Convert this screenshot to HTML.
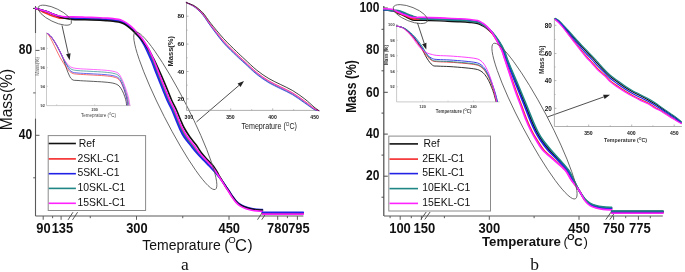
<!DOCTYPE html>
<html><head><meta charset="utf-8"><style>
html,body{margin:0;padding:0;background:#fff;width:685px;height:272px;overflow:hidden}
svg{display:block;will-change:transform}

</style></head><body>
<svg width="685" height="272" viewBox="0 0 685 272">
<rect width="685" height="272" fill="#fff"/>
<line x1="35.5" y1="6" x2="35.5" y2="33" stroke="#5a5a5a" stroke-width="1.1" />
<line x1="35.5" y1="33" x2="35.5" y2="118.5" stroke="#c8c8c8" stroke-width="1" />
<line x1="35.5" y1="118.5" x2="35.5" y2="216" stroke="#5a5a5a" stroke-width="1.1" />
<line x1="35.5" y1="216" x2="303.4" y2="216" stroke="#5a5a5a" stroke-width="1.1" />
<line x1="35.5" y1="50.4" x2="39.5" y2="50.4" stroke="#5a5a5a" stroke-width="1" />
<line x1="35.5" y1="92.9" x2="33.2" y2="92.9" stroke="#5a5a5a" stroke-width="1" />
<line x1="35.5" y1="135.3" x2="39.5" y2="135.3" stroke="#5a5a5a" stroke-width="1" />
<line x1="35.5" y1="177.8" x2="33.2" y2="177.8" stroke="#5a5a5a" stroke-width="1" />
<line x1="33" y1="8.4" x2="35.5" y2="8.4" stroke="#333" stroke-width="1" />
<line x1="43.2" y1="216" x2="43.2" y2="219.8" stroke="#5a5a5a" stroke-width="1" />
<line x1="52.6" y1="216" x2="52.6" y2="218.2" stroke="#5a5a5a" stroke-width="1" />
<line x1="61.1" y1="216" x2="61.1" y2="219.8" stroke="#5a5a5a" stroke-width="1" />
<line x1="90.25" y1="216" x2="90.25" y2="218.2" stroke="#5a5a5a" stroke-width="1" />
<line x1="136.5" y1="216" x2="136.5" y2="219.8" stroke="#5a5a5a" stroke-width="1" />
<line x1="182.75" y1="216" x2="182.75" y2="218.2" stroke="#5a5a5a" stroke-width="1" />
<line x1="229" y1="216" x2="229" y2="219.8" stroke="#5a5a5a" stroke-width="1" />
<line x1="277.7" y1="216" x2="277.7" y2="219.8" stroke="#5a5a5a" stroke-width="1" />
<line x1="287.4" y1="216" x2="287.4" y2="218.2" stroke="#5a5a5a" stroke-width="1" />
<line x1="297.4" y1="216" x2="297.4" y2="219.8" stroke="#5a5a5a" stroke-width="1" />
<line x1="68" y1="219.9" x2="73" y2="212.2" stroke="#444" stroke-width="0.9" />
<line x1="72.5" y1="219.9" x2="77.6" y2="212.2" stroke="#444" stroke-width="0.9" />
<line x1="257.5" y1="219.7" x2="262.5" y2="212.2" stroke="#444" stroke-width="0.9" />
<line x1="261.8" y1="219.7" x2="266.8" y2="212.2" stroke="#444" stroke-width="0.9" />
<text x="0" y="5" font-size="14" text-anchor="end" font-weight="bold" font-family="Liberation Sans" fill="#111" transform="translate(32.1 49.2) scale(0.86 1)">80</text>
<text x="0" y="5" font-size="14" text-anchor="end" font-weight="bold" font-family="Liberation Sans" fill="#111" transform="translate(32.1 134) scale(0.86 1)">40</text>
<text x="0" y="0" font-size="14" text-anchor="middle" font-weight="bold" font-family="Liberation Sans" fill="#111"  transform="translate(43.4 232.7) scale(0.92 1)">90</text>
<text x="0" y="0" font-size="14" text-anchor="middle" font-weight="bold" font-family="Liberation Sans" fill="#111"  transform="translate(62.4 232.7) scale(0.92 1)">135</text>
<text x="0" y="0" font-size="14" text-anchor="middle" font-weight="bold" font-family="Liberation Sans" fill="#111"  transform="translate(136.9 232.7) scale(0.92 1)">300</text>
<text x="0" y="0" font-size="14" text-anchor="middle" font-weight="bold" font-family="Liberation Sans" fill="#111"  transform="translate(229.2 232.7) scale(0.92 1)">450</text>
<text x="0" y="0" font-size="14" text-anchor="middle" font-weight="bold" font-family="Liberation Sans" fill="#111"  transform="translate(277.8 232.7) scale(0.92 1)">780</text>
<text x="0" y="0" font-size="14" text-anchor="middle" font-weight="bold" font-family="Liberation Sans" fill="#111"  transform="translate(298.9 232.7) scale(0.92 1)">795</text>
<text x="0" y="0" font-size="15.6" text-anchor="middle" font-weight="normal" font-family="Liberation Sans" fill="#111" transform="translate(12.2 99.6) rotate(-90)">Mass(%)</text>
<text x="142.2" y="250.4" font-size="15.4" text-anchor="start" font-weight="normal" font-family="Liberation Sans" fill="#111" textLength="78.6" lengthAdjust="spacingAndGlyphs" >Temeprature</text>
<text x="224.2" y="250.4" font-size="15.4" text-anchor="start" font-weight="normal" font-family="Liberation Sans" fill="#111" >(</text>
<text x="228.2" y="243" font-size="9.6" text-anchor="start" font-weight="normal" font-family="Liberation Sans" fill="#111" >O</text>
<text x="234.9" y="250.6" font-size="16.8" text-anchor="start" font-weight="normal" font-family="Liberation Sans" fill="#111" textLength="12" lengthAdjust="spacingAndGlyphs">C</text>
<text x="247.4" y="250.4" font-size="15.4" text-anchor="start" font-weight="normal" font-family="Liberation Sans" fill="#111" >)</text>
<text x="181" y="269.6" font-size="17.5" text-anchor="start" font-weight="normal" font-family="Liberation Serif" fill="#111" >a</text>
<rect x="48.2" y="135.6" width="97.4" height="74.9" fill="#fff" stroke="#8a8a8a" stroke-width="1"/>
<line x1="48.7" y1="143.5" x2="75.9" y2="143.5" stroke="#111111" stroke-width="1.6" />
<text x="0" y="0" font-size="11.2" text-anchor="start" font-weight="normal" font-family="Liberation Sans" fill="#111"  transform="translate(78.8 146.7) scale(0.93 1)">Ref</text>
<line x1="48.7" y1="158.9" x2="75.9" y2="158.9" stroke="#f52828" stroke-width="1.6" />
<text x="0" y="0" font-size="11.2" text-anchor="start" font-weight="normal" font-family="Liberation Sans" fill="#111"  transform="translate(77.4 161.5) scale(0.93 1)">2SKL-C1</text>
<line x1="48.7" y1="173.7" x2="75.9" y2="173.7" stroke="#2222e6" stroke-width="1.6" />
<text x="0" y="0" font-size="11.2" text-anchor="start" font-weight="normal" font-family="Liberation Sans" fill="#111"  transform="translate(77.4 176.3) scale(0.93 1)">5SKL-C1</text>
<line x1="48.7" y1="188.4" x2="75.9" y2="188.4" stroke="#1f8585" stroke-width="1.6" />
<text x="0" y="0" font-size="11.2" text-anchor="start" font-weight="normal" font-family="Liberation Sans" fill="#111"  transform="translate(77.4 191) scale(0.93 1)">10SKL-C1</text>
<line x1="48.7" y1="203.3" x2="75.9" y2="203.3" stroke="#ff22ff" stroke-width="1.6" />
<text x="0" y="0" font-size="11.2" text-anchor="start" font-weight="normal" font-family="Liberation Sans" fill="#111"  transform="translate(77.4 205.9) scale(0.93 1)">15SKL-C1</text>
<path d="M35.6 8.4 C36.1 8.62 37.37 9.14 38.6 9.72 C39.83 10.3 41.35 11.14 43 11.9 C44.65 12.66 46.67 13.53 48.5 14.3 C50.33 15.07 52.15 15.87 54 16.5 C55.85 17.13 57.75 17.8 59.6 18.09 C61.45 18.39 63.03 18.21 65.1 18.26 C67.17 18.32 68.68 18.33 72 18.4 C75.32 18.47 80.33 18.57 85 18.7 C89.67 18.83 96.33 19.05 100 19.2 C103.67 19.35 104.83 19.45 107 19.6 C109.17 19.75 111.1 19.88 113 20.1 C114.9 20.32 116.82 20.55 118.4 20.9 C119.98 21.25 121.23 21.69 122.5 22.2 C123.77 22.71 124.76 23.19 126.02 23.97 C127.27 24.76 128.8 25.94 130.05 26.92 C131.29 27.9 132.3 28.72 133.48 29.87 C134.66 31.01 135.89 32.44 137.12 33.79 C138.35 35.15 139.69 36.54 140.87 38.02 C142.05 39.49 143.05 40.88 144.22 42.63 C145.39 44.39 146.77 46.47 147.88 48.53 C149 50.59 149.95 52.92 150.9 55 C151.85 57.08 152.28 57.75 153.6 61 C154.92 64.25 156.92 69.7 158.8 74.5 C160.68 79.3 163.15 85.47 164.9 89.8 C166.65 94.13 167.78 97.13 169.3 100.5 C170.82 103.87 172.57 106.83 174 110 C175.43 113.17 176.68 116.58 177.9 119.5 C179.12 122.42 179.9 124.67 181.32 127.5 C182.73 130.33 184.4 133.53 186.38 136.5 C188.36 139.47 191.1 142.55 193.19 145.3 C195.28 148.05 196.9 150.55 198.92 153 C200.93 155.45 203.26 157.83 205.29 160 C207.31 162.17 209.34 164.03 211.07 166 C212.8 167.97 214.28 169.97 215.66 171.82 C217.04 173.67 218.17 175.36 219.36 177.08 C220.55 178.8 221.69 180.46 222.8 182.14 C223.91 183.83 224.97 185.6 226 187.2 C227.03 188.81 227.97 190.16 229 191.76 C230.03 193.36 231.03 195.13 232.2 196.8 C233.37 198.47 234.7 200.38 236 201.8 C237.3 203.22 238.33 204.25 240 205.3 C241.67 206.35 243.83 207.33 246 208.1 C248.17 208.87 250.27 209.47 253 209.9 C255.73 210.33 260.83 210.57 262.4 210.7" fill="none" stroke="#f52828" stroke-width="1.6" stroke-linejoin="round" stroke-linecap="round" />
<path d="M35.6 8.4 C36.1 8.53 37.37 8.85 38.6 9.2 C39.83 9.55 41.35 9.98 43 10.5 C44.65 11.02 46.67 11.63 48.5 12.3 C50.33 12.97 52.15 13.83 54 14.5 C55.85 15.17 57.75 15.82 59.6 16.3 C61.45 16.78 63.03 17.13 65.1 17.4 C67.17 17.67 68.68 17.77 72 17.9 C75.32 18.03 80.33 18.07 85 18.2 C89.67 18.33 96.33 18.55 100 18.7 C103.67 18.85 104.83 18.95 107 19.1 C109.17 19.25 111.1 19.38 113 19.6 C114.9 19.82 116.82 20.05 118.4 20.4 C119.98 20.75 121.24 21.18 122.5 21.7 C123.76 22.22 124.73 22.7 125.96 23.5 C127.19 24.3 128.67 25.5 129.87 26.5 C131.08 27.5 132.05 28.33 133.19 29.5 C134.32 30.67 135.49 32.12 136.67 33.5 C137.85 34.88 139.12 36.3 140.25 37.8 C141.37 39.3 142.32 40.72 143.41 42.5 C144.51 44.28 145.78 46.42 146.84 48.5 C147.91 50.58 148.86 52.92 149.8 55 C150.74 57.08 151.18 57.75 152.5 61 C153.82 64.25 155.82 69.7 157.7 74.5 C159.58 79.3 162.05 85.47 163.8 89.8 C165.55 94.13 166.68 97.13 168.2 100.5 C169.72 103.87 171.47 106.83 172.9 110 C174.33 113.17 175.59 116.58 176.8 119.5 C178.01 122.42 178.79 124.67 180.15 127.5 C181.52 130.33 183.05 133.53 184.98 136.5 C186.92 139.47 189.63 142.55 191.76 145.3 C193.89 148.05 195.67 150.55 197.75 153 C199.83 155.45 202.18 157.83 204.24 160 C206.29 162.17 208.27 164.03 210.08 166 C211.89 167.97 213.56 169.97 215.07 171.8 C216.58 173.63 217.85 175.3 219.14 177 C220.43 178.7 221.66 180.33 222.8 182 C223.94 183.67 224.97 185.42 226 187 C227.03 188.58 227.97 189.92 229 191.5 C230.03 193.08 231.03 194.83 232.2 196.5 C233.37 198.17 234.7 200.08 236 201.5 C237.3 202.92 238.33 203.95 240 205 C241.67 206.05 243.83 207.03 246 207.8 C248.17 208.57 250.27 209.17 253 209.6 C255.73 210.03 260.83 210.27 262.4 210.4" fill="none" stroke="#1f8585" stroke-width="1.6" stroke-linejoin="round" stroke-linecap="round" />
<path d="M35.6 8.4 C36.1 8.53 37.37 8.85 38.6 9.2 C39.83 9.55 41.35 9.98 43 10.5 C44.65 11.02 46.67 11.63 48.5 12.3 C50.33 12.97 52.15 13.81 54 14.5 C55.85 15.19 57.75 15.89 59.6 16.44 C61.45 16.98 63.03 17.4 65.1 17.74 C67.17 18.09 68.68 18.32 72 18.5 C75.32 18.68 80.33 18.67 85 18.8 C89.67 18.93 96.33 19.15 100 19.3 C103.67 19.45 104.83 19.55 107 19.7 C109.17 19.85 111.1 19.98 113 20.2 C114.9 20.42 116.82 20.65 118.4 21 C119.98 21.35 121.25 21.79 122.5 22.3 C123.75 22.81 124.7 23.28 125.9 24.07 C127.11 24.85 128.54 26.03 129.71 27 C130.88 27.98 131.83 28.8 132.92 29.94 C134.01 31.08 135.13 32.5 136.26 33.85 C137.39 35.21 138.61 36.59 139.68 38.06 C140.75 39.53 141.65 40.92 142.68 42.66 C143.72 44.41 144.88 46.48 145.9 48.53 C146.92 50.59 147.87 52.92 148.8 55 C149.73 57.08 150.18 57.75 151.5 61 C152.82 64.25 154.82 69.7 156.7 74.5 C158.58 79.3 161.05 85.47 162.8 89.8 C164.55 94.13 165.68 97.13 167.2 100.5 C168.72 103.87 170.47 106.83 171.9 110 C173.33 113.17 174.6 116.58 175.8 119.5 C177 122.42 177.78 124.67 179.09 127.5 C180.41 130.33 181.82 133.53 183.71 136.5 C185.61 139.47 188.3 142.55 190.46 145.3 C192.63 148.05 194.55 150.55 196.69 153 C198.83 155.45 201.2 157.83 203.28 160 C205.36 162.17 207.3 164.04 209.18 166 C211.06 167.96 212.92 169.95 214.54 171.74 C216.17 173.54 217.56 175.13 218.94 176.78 C220.31 178.42 221.62 180 222.8 181.62 C223.98 183.23 224.97 184.92 226 186.46 C227.03 187.99 227.97 189.27 229 190.81 C230.03 192.35 231.03 194.05 232.2 195.7 C233.37 197.35 234.7 199.28 236 200.7 C237.3 202.12 238.33 203.15 240 204.2 C241.67 205.25 243.83 206.23 246 207 C248.17 207.77 250.27 208.37 253 208.8 C255.73 209.23 260.83 209.47 262.4 209.6" fill="none" stroke="#2222e6" stroke-width="1.6" stroke-linejoin="round" stroke-linecap="round" />
<path d="M35.6 8.4 C36.1 8.53 37.37 8.85 38.6 9.2 C39.83 9.55 41.35 9.98 43 10.5 C44.65 11.02 46.67 11.63 48.5 12.3 C50.33 12.97 52.15 13.77 54 14.5 C55.85 15.23 57.75 16.02 59.6 16.66 C61.45 17.3 63.03 17.84 65.1 18.31 C67.17 18.78 68.68 19.25 72 19.5 C75.32 19.75 80.33 19.67 85 19.8 C89.67 19.93 96.33 20.15 100 20.3 C103.67 20.45 104.83 20.55 107 20.7 C109.17 20.85 111.1 20.98 113 21.2 C114.9 21.42 116.82 21.65 118.4 22 C119.98 22.35 121.23 22.78 122.5 23.3 C123.77 23.82 124.75 24.3 126 25.1 C127.25 25.9 128.77 27.1 130 28.1 C131.23 29.1 132.2 29.95 133.4 31.1 C134.6 32.25 135.91 33.65 137.2 34.99 C138.49 36.33 139.89 37.7 141.14 39.15 C142.39 40.6 143.45 41.97 144.7 43.7 C145.95 45.43 147.42 47.49 148.64 49.51 C149.85 51.52 150.93 53.78 152 55.8 C153.07 57.82 153.54 58.46 155.04 61.61 C156.53 64.75 158.93 69.98 160.99 74.68 C163.05 79.37 165.6 85.5 167.4 89.8 C169.2 94.1 170.28 97.13 171.8 100.5 C173.32 103.87 175.07 106.83 176.5 110 C177.93 113.17 179.16 116.58 180.4 119.5 C181.64 122.42 182.44 124.67 183.96 127.5 C185.49 130.33 187.48 133.53 189.56 136.5 C191.64 139.47 194.43 142.55 196.44 145.3 C198.44 148.05 199.7 150.55 201.57 153 C203.45 155.45 205.71 157.83 207.67 160 C209.63 162.17 211.77 164.04 213.32 166 C214.87 167.96 215.9 169.96 216.99 171.78 C218.08 173.6 218.9 175.24 219.87 176.92 C220.84 178.6 221.78 180.21 222.8 181.86 C223.82 183.5 224.97 185.23 226 186.8 C227.03 188.36 227.97 189.67 229 191.24 C230.03 192.81 231.03 194.54 232.2 196.2 C233.37 197.86 234.7 199.78 236 201.2 C237.3 202.62 238.33 203.65 240 204.7 C241.67 205.75 243.83 206.73 246 207.5 C248.17 208.27 250.27 208.87 253 209.3 C255.73 209.73 260.83 209.97 262.4 210.1" fill="none" stroke="#111111" stroke-width="1.6" stroke-linejoin="round" stroke-linecap="round" />
<path d="M35.6 8.4 C36.1 8.53 37.37 8.85 38.6 9.2 C39.83 9.55 41.35 9.98 43 10.5 C44.65 11.02 46.67 11.63 48.5 12.3 C50.33 12.97 52.15 13.87 54 14.5 C55.85 15.13 57.75 15.69 59.6 16.07 C61.45 16.46 63.03 16.69 65.1 16.83 C67.17 16.97 68.68 16.84 72 16.9 C75.32 16.96 80.33 17.07 85 17.2 C89.67 17.33 96.33 17.55 100 17.7 C103.67 17.85 104.83 17.95 107 18.1 C109.17 18.25 111.1 18.38 113 18.6 C114.9 18.82 116.82 19.05 118.4 19.4 C119.98 19.75 121.23 20.17 122.5 20.7 C123.77 21.23 124.77 21.73 126.05 22.55 C127.32 23.38 128.88 24.62 130.14 25.66 C131.41 26.7 132.44 27.56 133.64 28.77 C134.85 29.98 136.11 31.48 137.37 32.91 C138.63 34.34 139.99 35.81 141.21 37.36 C142.42 38.92 143.45 40.39 144.66 42.23 C145.87 44.08 147.31 46.32 148.45 48.45 C149.59 50.57 150.54 52.91 151.5 55 C152.46 57.09 152.88 57.75 154.2 61 C155.52 64.25 157.52 69.7 159.4 74.5 C161.28 79.3 163.75 85.47 165.5 89.8 C167.25 94.13 168.38 97.13 169.9 100.5 C171.42 103.87 173.17 106.83 174.6 110 C176.03 113.17 177.27 116.58 178.5 119.5 C179.73 122.42 180.51 124.67 181.95 127.5 C183.39 130.33 185.14 133.53 187.14 136.5 C189.15 139.47 191.9 142.55 193.97 145.3 C196.04 148.05 197.57 150.55 199.56 153 C201.54 155.45 203.85 157.83 205.86 160 C207.87 162.17 209.92 164.02 211.61 166 C213.3 167.98 214.67 169.99 215.98 171.86 C217.29 173.74 218.35 175.49 219.48 177.25 C220.62 179.01 221.71 180.71 222.8 182.43 C223.89 184.16 224.97 185.97 226 187.61 C227.03 189.25 227.97 190.64 229 192.27 C230.03 193.91 231.03 195.71 232.2 197.4 C233.37 199.09 234.7 200.98 236 202.4 C237.3 203.82 238.33 204.85 240 205.9 C241.67 206.95 243.83 207.93 246 208.7 C248.17 209.47 250.27 210.07 253 210.5 C255.73 210.93 260.83 211.17 262.4 211.3" fill="none" stroke="#ff22ff" stroke-width="1.6" stroke-linejoin="round" stroke-linecap="round" />
<path d="M262.4 212.8 C269.22 212.8 296.48 212.8 303.3 212.8" fill="none" stroke="#111111" stroke-width="1.6" stroke-linejoin="round" stroke-linecap="round" />
<path d="M262.4 213.2 C269.22 213.2 296.48 213.2 303.3 213.2" fill="none" stroke="#1f8585" stroke-width="1.6" stroke-linejoin="round" stroke-linecap="round" />
<path d="M262.4 213.6 C269.22 213.6 296.48 213.6 303.3 213.6" fill="none" stroke="#f52828" stroke-width="1.6" stroke-linejoin="round" stroke-linecap="round" />
<path d="M262.4 214.1 C269.22 214.1 296.48 214.1 303.3 214.1" fill="none" stroke="#ff22ff" stroke-width="1.6" stroke-linejoin="round" stroke-linecap="round" />
<path d="M262.4 212.4 C269.22 212.4 296.48 212.4 303.3 212.4" fill="none" stroke="#2222e6" stroke-width="1.6" stroke-linejoin="round" stroke-linecap="round" />
<ellipse cx="54.8" cy="15.2" rx="18.4" ry="6.6" transform="rotate(26 54.8 15.2)" fill="none" stroke="#555" stroke-width="0.8"/>
<ellipse cx="175.3" cy="110.8" rx="88.2" ry="12.5" transform="rotate(63 175.3 110.8)" fill="none" stroke="#555" stroke-width="0.8"/>
<line x1="62" y1="25.4" x2="68.3" y2="53.85" stroke="#222" stroke-width="0.8" />
<path d="M69.7 60.2 L66.05 54.35 L70.54 53.36 Z" fill="#222"/>
<line x1="196.5" y1="121.9" x2="239.07" y2="85.34" stroke="#222" stroke-width="0.8" />
<path d="M244 81.1 L240.57 87.08 L237.57 83.59 Z" fill="#222"/>
<line x1="46.5" y1="33" x2="46.5" y2="105.6" stroke="#bdbdbd" stroke-width="0.8" />
<line x1="46.5" y1="105.6" x2="130.6" y2="105.6" stroke="#bdbdbd" stroke-width="0.8" />
<line x1="46.5" y1="48.4" x2="48" y2="48.4" stroke="#bdbdbd" stroke-width="0.6" />
<line x1="46.5" y1="67.7" x2="48" y2="67.7" stroke="#bdbdbd" stroke-width="0.6" />
<line x1="46.5" y1="86.3" x2="48" y2="86.3" stroke="#bdbdbd" stroke-width="0.6" />
<line x1="56.7" y1="105.6" x2="56.7" y2="104.2" stroke="#bdbdbd" stroke-width="0.6" />
<line x1="94.7" y1="105.6" x2="94.7" y2="104.2" stroke="#bdbdbd" stroke-width="0.6" />
<text x="44.8" y="49.7" font-size="3.8" text-anchor="end" font-weight="bold" font-family="Liberation Sans" fill="#444" >98</text>
<text x="44.8" y="69" font-size="3.8" text-anchor="end" font-weight="bold" font-family="Liberation Sans" fill="#444" >96</text>
<text x="44.8" y="87.6" font-size="3.8" text-anchor="end" font-weight="bold" font-family="Liberation Sans" fill="#444" >94</text>
<text x="44.8" y="106.8" font-size="3.8" text-anchor="end" font-weight="bold" font-family="Liberation Sans" fill="#444" >92</text>
<text x="94.7" y="111.3" font-size="3.8" text-anchor="middle" font-weight="bold" font-family="Liberation Sans" fill="#444" >200</text>
<text x="98.4" y="116.6" font-size="4.8" text-anchor="middle" font-weight="normal" font-family="Liberation Sans" fill="#444" textLength="35" lengthAdjust="spacingAndGlyphs" >Temeprature (<tspan font-size="3" dy="-1.5">O</tspan><tspan dy="1.5">C)</tspan></text>
<text x="0" y="0" font-size="4.8" text-anchor="middle" font-weight="normal" font-family="Liberation Sans" fill="#555" transform="translate(39.4 66.3) rotate(-90)">Mass(%)</text>
<path d="M47.2 33.3 C47.93 33.98 49.91 35.2 51.58 37.4 C53.24 39.6 55.35 43.13 57.2 46.5 C59.05 49.87 60.9 53.26 62.7 57.6 C64.5 61.94 66.46 68.92 68.01 72.55 C69.56 76.19 70.33 78.08 72 79.4 C73.67 80.72 75 80.2 78 80.5 C81 80.8 85.5 80.93 90 81.2 C94.5 81.47 101 81.73 105 82.1 C109 82.47 111.67 82.77 114 83.4 C116.33 84.03 117.61 84.68 119 85.9 C120.39 87.12 121.37 88.93 122.34 90.74 C123.31 92.54 124.16 94.93 124.8 96.72 C125.44 98.52 125.87 100.12 126.15 101.5 C126.43 102.88 126.44 104.42 126.5 105" fill="none" stroke="#111111" stroke-width="0.8" stroke-linejoin="round" stroke-linecap="round" opacity="0.85"/>
<path d="M47.2 33.3 C47.69 33.98 48.86 35.2 50.11 37.4 C51.36 39.6 53.02 43.13 54.7 46.5 C56.38 49.87 58.13 53.94 60.2 57.6 C62.27 61.26 65.16 65.89 67.12 68.48 C69.09 71.06 70.19 72.15 72 73.1 C73.81 74.05 75 73.9 78 74.2 C81 74.5 85.5 74.63 90 74.9 C94.5 75.17 101 75.43 105 75.8 C109 76.17 111.67 76.47 114 77.1 C116.33 77.73 117.55 78.11 119 79.6 C120.45 81.09 121.61 83.64 122.72 86.03 C123.83 88.43 124.87 91.61 125.65 93.99 C126.43 96.38 126.98 98.51 127.38 100.34 C127.77 102.18 127.9 104.22 128 105" fill="none" stroke="#f52828" stroke-width="0.8" stroke-linejoin="round" stroke-linecap="round" opacity="0.85"/>
<path d="M47.2 33.3 C47.96 33.98 50.03 35.2 51.75 37.4 C53.47 39.6 55.63 43.13 57.5 46.5 C59.37 49.87 61.23 54.07 63 57.6 C64.77 61.13 66.61 65.32 68.11 67.7 C69.61 70.08 70.35 71.02 72 71.9 C73.65 72.78 75 72.7 78 73 C81 73.3 85.5 73.43 90 73.7 C94.5 73.97 101 74.23 105 74.6 C109 74.97 111.67 75.27 114 75.9 C116.33 76.53 117.57 76.86 119 78.4 C120.43 79.94 121.53 82.63 122.59 85.14 C123.65 87.65 124.64 90.98 125.37 93.47 C126.1 95.97 126.61 98.2 126.97 100.12 C127.32 102.04 127.41 104.19 127.5 105" fill="none" stroke="#2222e6" stroke-width="0.8" stroke-linejoin="round" stroke-linecap="round" opacity="0.85"/>
<path d="M47.2 33.3 C47.94 33.98 49.95 35.2 51.63 37.4 C53.32 39.6 55.44 43.13 57.3 46.5 C59.16 49.87 61.01 54.33 62.8 57.6 C64.59 60.87 66.51 64.16 68.04 66.15 C69.57 68.13 70.34 68.76 72 69.5 C73.66 70.24 75 70.3 78 70.6 C81 70.9 85.5 71.03 90 71.3 C94.5 71.57 101 71.83 105 72.2 C109 72.57 111.67 72.87 114 73.5 C116.33 74.13 117.51 74.36 119 76 C120.49 77.64 121.74 80.61 122.92 83.35 C124.11 86.09 125.25 89.71 126.1 92.43 C126.95 95.16 127.58 97.59 128.03 99.68 C128.48 101.78 128.67 104.11 128.8 105" fill="none" stroke="#1f8585" stroke-width="0.8" stroke-linejoin="round" stroke-linecap="round" opacity="0.85"/>
<path d="M47.2 33.3 C47.96 33.98 50.03 35.2 51.75 37.4 C53.47 39.6 55.63 43.13 57.5 46.5 C59.37 49.87 61.23 54.54 63 57.6 C64.77 60.66 66.61 63.2 68.11 64.85 C69.61 66.5 70.35 66.88 72 67.5 C73.65 68.12 75 68.3 78 68.6 C81 68.9 85.5 69.03 90 69.3 C94.5 69.57 101 69.83 105 70.2 C109 70.57 111.67 70.87 114 71.5 C116.33 72.13 117.47 72.27 119 74 C120.53 75.73 121.9 78.93 123.18 81.85 C124.45 84.78 125.73 88.66 126.67 91.57 C127.61 94.48 128.32 97.08 128.84 99.32 C129.37 101.56 129.64 104.05 129.8 105" fill="none" stroke="#ff22ff" stroke-width="0.8" stroke-linejoin="round" stroke-linecap="round" opacity="0.85"/>
<line x1="186.5" y1="1.5" x2="186.5" y2="110.4" stroke="#9a9a9a" stroke-width="0.8" />
<line x1="186.5" y1="110.4" x2="319.4" y2="110.4" stroke="#9a9a9a" stroke-width="0.8" />
<line x1="186.5" y1="16.2" x2="188.5" y2="16.2" stroke="#9a9a9a" stroke-width="0.7" />
<line x1="186.5" y1="44.1" x2="188.5" y2="44.1" stroke="#9a9a9a" stroke-width="0.7" />
<line x1="186.5" y1="71.5" x2="188.5" y2="71.5" stroke="#9a9a9a" stroke-width="0.7" />
<line x1="186.5" y1="98.9" x2="188.5" y2="98.9" stroke="#9a9a9a" stroke-width="0.7" />
<line x1="186.5" y1="30.15" x2="187.7" y2="30.15" stroke="#9a9a9a" stroke-width="0.6" />
<line x1="186.5" y1="57.8" x2="187.7" y2="57.8" stroke="#9a9a9a" stroke-width="0.6" />
<line x1="186.5" y1="85.2" x2="187.7" y2="85.2" stroke="#9a9a9a" stroke-width="0.6" />
<line x1="188.8" y1="110.4" x2="188.8" y2="108.4" stroke="#9a9a9a" stroke-width="0.7" />
<line x1="230.7" y1="110.4" x2="230.7" y2="108.4" stroke="#9a9a9a" stroke-width="0.7" />
<line x1="272.7" y1="110.4" x2="272.7" y2="108.4" stroke="#9a9a9a" stroke-width="0.7" />
<line x1="314.6" y1="110.4" x2="314.6" y2="108.4" stroke="#9a9a9a" stroke-width="0.7" />
<line x1="209.75" y1="110.4" x2="209.75" y2="109.2" stroke="#9a9a9a" stroke-width="0.6" />
<line x1="251.7" y1="110.4" x2="251.7" y2="109.2" stroke="#9a9a9a" stroke-width="0.6" />
<line x1="293.65" y1="110.4" x2="293.65" y2="109.2" stroke="#9a9a9a" stroke-width="0.6" />
<text x="184.3" y="18.4" font-size="6.2" text-anchor="end" font-weight="bold" font-family="Liberation Sans" fill="#111" >80</text>
<text x="184.3" y="46.3" font-size="6.2" text-anchor="end" font-weight="bold" font-family="Liberation Sans" fill="#111" >60</text>
<text x="184.3" y="73.7" font-size="6.2" text-anchor="end" font-weight="bold" font-family="Liberation Sans" fill="#111" >40</text>
<text x="184.3" y="101.1" font-size="6.2" text-anchor="end" font-weight="bold" font-family="Liberation Sans" fill="#111" >20</text>
<text x="0" y="0" font-size="5.8" text-anchor="middle" font-weight="bold" font-family="Liberation Sans" fill="#111"  transform="translate(188.8 119.2) scale(0.88 1)">300</text>
<text x="0" y="0" font-size="5.8" text-anchor="middle" font-weight="bold" font-family="Liberation Sans" fill="#111"  transform="translate(230.4 119.2) scale(0.88 1)">350</text>
<text x="0" y="0" font-size="5.8" text-anchor="middle" font-weight="bold" font-family="Liberation Sans" fill="#111"  transform="translate(272.5 119.2) scale(0.88 1)">400</text>
<text x="0" y="0" font-size="5.8" text-anchor="middle" font-weight="bold" font-family="Liberation Sans" fill="#111"  transform="translate(314.6 119.2) scale(0.88 1)">450</text>
<text x="0" y="0" font-size="7.5" text-anchor="middle" font-weight="bold" font-family="Liberation Sans" fill="#222" transform="translate(173.2 51.2) rotate(-90)">Mass(%)</text>
<text x="269.2" y="128.9" font-size="8.2" text-anchor="middle" font-weight="normal" font-family="Liberation Sans" fill="#1a1a1a" textLength="55.5" lengthAdjust="spacingAndGlyphs" >Temeprature (<tspan font-size="5.4" dy="-3">O</tspan><tspan dy="3">C)</tspan></text>
<path d="M186.3 2.6 C186.92 2.9 188.5 3.57 190 4.4 C191.5 5.23 193.13 5.8 195.3 7.6 C197.47 9.4 200.43 12.1 203 15.2 C205.57 18.3 207.27 21.57 210.7 26.2 C214.13 30.83 219.3 38.05 223.6 43 C227.9 47.95 232.93 52.45 236.5 55.9 C240.07 59.35 241.6 60.6 245 63.7 C248.4 66.8 252.92 71.32 256.9 74.5 C260.88 77.68 264.92 80.42 268.9 82.8 C272.88 85.18 276.83 86.8 280.8 88.8 C284.77 90.8 288.72 92.43 292.7 94.8 C296.68 97.17 301.15 100.57 304.7 103 C308.25 105.43 311.65 108.13 314 109.4 C316.35 110.67 318 110.4 318.8 110.6" fill="none" stroke="#2222e6" stroke-width="0.8" stroke-linejoin="round" stroke-linecap="round" />
<path d="M186.3 2.6 C186.92 2.89 188.5 3.51 190 4.31 C191.5 5.11 193.13 5.64 195.3 7.38 C197.47 9.13 200.43 11.74 203 14.79 C205.57 17.83 207.27 21.09 210.7 25.66 C214.13 30.23 219.3 37.3 223.6 42.21 C227.9 47.12 232.93 51.65 236.5 55.11 C240.07 58.56 241.6 59.84 245 62.94 C248.4 66.05 252.92 70.56 256.9 73.74 C260.88 76.93 264.92 79.66 268.9 82.04 C272.88 84.43 276.83 86.04 280.8 88.04 C284.77 90.04 288.72 91.67 292.7 94.04 C296.68 96.41 301.15 99.77 304.7 102.26 C308.25 104.75 311.65 107.58 314 108.97 C316.35 110.36 318 110.33 318.8 110.6" fill="none" stroke="#1f8585" stroke-width="0.8" stroke-linejoin="round" stroke-linecap="round" />
<path d="M186.3 2.6 C186.92 2.86 188.5 3.43 190 4.18 C191.5 4.92 193.13 5.39 195.3 7.06 C197.47 8.72 200.43 11.2 203 14.16 C205.57 17.13 207.27 20.37 210.7 24.85 C214.13 29.33 219.3 36.17 223.6 41.02 C227.9 45.86 232.93 50.45 236.5 53.92 C240.07 57.39 241.6 58.7 245 61.81 C248.4 64.92 252.92 69.43 256.9 72.61 C260.88 75.79 264.92 78.53 268.9 80.91 C272.88 83.29 276.83 84.91 280.8 86.91 C284.77 88.91 288.72 90.54 292.7 92.91 C296.68 95.28 301.15 98.59 304.7 101.16 C308.25 103.72 311.65 106.75 314 108.32 C316.35 109.89 318 110.22 318.8 110.6" fill="none" stroke="#f52828" stroke-width="0.8" stroke-linejoin="round" stroke-linecap="round" />
<path d="M186.3 2.6 C186.92 2.87 188.5 3.46 190 4.23 C191.5 4.99 193.13 5.49 195.3 7.18 C197.47 8.88 200.43 11.4 203 14.39 C205.57 17.39 207.27 20.64 210.7 25.15 C214.13 29.66 219.3 36.59 223.6 41.46 C227.9 46.33 232.93 50.9 236.5 54.36 C240.07 57.82 241.6 59.12 245 62.23 C248.4 65.34 252.92 69.85 256.9 73.03 C260.88 76.21 264.92 78.95 268.9 81.33 C272.88 83.71 276.83 85.33 280.8 87.33 C284.77 89.33 288.72 90.96 292.7 93.33 C296.68 95.7 301.15 99.03 304.7 101.56 C308.25 104.1 311.65 107.05 314 108.56 C316.35 110.07 318 110.26 318.8 110.6" fill="none" stroke="#ff22ff" stroke-width="0.8" stroke-linejoin="round" stroke-linecap="round" />
<path d="M186.3 2.6 C186.92 2.82 188.5 3.27 190 3.9 C191.5 4.53 193.13 4.9 195.3 6.4 C197.47 7.9 200.43 10.1 203 12.9 C205.57 15.7 207.27 18.92 210.7 23.2 C214.13 27.48 219.3 33.88 223.6 38.6 C227.9 43.32 232.93 48.02 236.5 51.5 C240.07 54.98 241.6 56.37 245 59.5 C248.4 62.63 252.92 67.12 256.9 70.3 C260.88 73.48 264.92 76.22 268.9 78.6 C272.88 80.98 276.83 82.6 280.8 84.6 C284.77 86.6 288.72 88.22 292.7 90.6 C296.68 92.98 301.15 96.17 304.7 98.9 C308.25 101.63 311.65 105.05 314 107 C316.35 108.95 318 110 318.8 110.6" fill="none" stroke="#111111" stroke-width="0.8" stroke-linejoin="round" stroke-linecap="round" />
<line x1="383.8" y1="6.1" x2="383.8" y2="216" stroke="#4a4a4a" stroke-width="1.2" />
<line x1="384" y1="216" x2="662.8" y2="216" stroke="#5a5a5a" stroke-width="1.1" />
<line x1="383.8" y1="8" x2="387.8" y2="8" stroke="#4a4a4a" stroke-width="1" />
<line x1="383.8" y1="29.3" x2="381.5" y2="29.3" stroke="#4a4a4a" stroke-width="1" />
<line x1="383.8" y1="50" x2="387.8" y2="50" stroke="#4a4a4a" stroke-width="1" />
<line x1="383.8" y1="70.8" x2="381.5" y2="70.8" stroke="#4a4a4a" stroke-width="1" />
<line x1="383.8" y1="92.3" x2="387.8" y2="92.3" stroke="#4a4a4a" stroke-width="1" />
<line x1="383.8" y1="113.1" x2="381.5" y2="113.1" stroke="#4a4a4a" stroke-width="1" />
<line x1="383.8" y1="134.1" x2="387.8" y2="134.1" stroke="#4a4a4a" stroke-width="1" />
<line x1="383.8" y1="155.1" x2="381.5" y2="155.1" stroke="#4a4a4a" stroke-width="1" />
<line x1="383.8" y1="176.2" x2="387.8" y2="176.2" stroke="#4a4a4a" stroke-width="1" />
<line x1="383.8" y1="197.2" x2="381.5" y2="197.2" stroke="#4a4a4a" stroke-width="1" />
<line x1="390.1" y1="216" x2="390.1" y2="218.2" stroke="#5a5a5a" stroke-width="1" />
<line x1="400.2" y1="216" x2="400.2" y2="219.8" stroke="#5a5a5a" stroke-width="1" />
<line x1="411.3" y1="216" x2="411.3" y2="218.2" stroke="#5a5a5a" stroke-width="1" />
<line x1="421.4" y1="216" x2="421.4" y2="219.8" stroke="#5a5a5a" stroke-width="1" />
<line x1="444.4" y1="216" x2="444.4" y2="218.2" stroke="#5a5a5a" stroke-width="1" />
<line x1="489.3" y1="216" x2="489.3" y2="219.8" stroke="#5a5a5a" stroke-width="1" />
<line x1="534.1" y1="216" x2="534.1" y2="218.2" stroke="#5a5a5a" stroke-width="1" />
<line x1="579" y1="216" x2="579" y2="219.8" stroke="#5a5a5a" stroke-width="1" />
<line x1="613.6" y1="216" x2="613.6" y2="219.8" stroke="#5a5a5a" stroke-width="1" />
<line x1="625.7" y1="216" x2="625.7" y2="218.2" stroke="#5a5a5a" stroke-width="1" />
<line x1="638.4" y1="216" x2="638.4" y2="219.8" stroke="#5a5a5a" stroke-width="1" />
<line x1="650.3" y1="216" x2="650.3" y2="218.2" stroke="#5a5a5a" stroke-width="1" />
<line x1="420.9" y1="219.4" x2="426.2" y2="212" stroke="#444" stroke-width="0.9" />
<line x1="424.8" y1="219.4" x2="430.1" y2="212" stroke="#444" stroke-width="0.9" />
<line x1="605.8" y1="219.6" x2="611" y2="212.2" stroke="#444" stroke-width="0.9" />
<line x1="609.8" y1="219.6" x2="615" y2="212.2" stroke="#444" stroke-width="0.9" />
<text x="0" y="5" font-size="14" text-anchor="end" font-weight="bold" font-family="Liberation Sans" fill="#111" transform="translate(379.5 7.15) scale(0.86 1)">100</text>
<text x="0" y="5" font-size="14" text-anchor="end" font-weight="bold" font-family="Liberation Sans" fill="#111" transform="translate(379.5 49.2) scale(0.86 1)">80</text>
<text x="0" y="5" font-size="14" text-anchor="end" font-weight="bold" font-family="Liberation Sans" fill="#111" transform="translate(379.5 91.5) scale(0.86 1)">60</text>
<text x="0" y="5" font-size="14" text-anchor="end" font-weight="bold" font-family="Liberation Sans" fill="#111" transform="translate(379.5 133.1) scale(0.86 1)">40</text>
<text x="0" y="5" font-size="14" text-anchor="end" font-weight="bold" font-family="Liberation Sans" fill="#111" transform="translate(379.5 175.1) scale(0.86 1)">20</text>
<text x="0" y="0" font-size="14" text-anchor="middle" font-weight="bold" font-family="Liberation Sans" fill="#111"  transform="translate(400 232.5) scale(0.93 1)">100</text>
<text x="0" y="0" font-size="14" text-anchor="middle" font-weight="bold" font-family="Liberation Sans" fill="#111"  transform="translate(424.3 232.5) scale(0.93 1)">150</text>
<text x="0" y="0" font-size="14" text-anchor="middle" font-weight="bold" font-family="Liberation Sans" fill="#111"  transform="translate(489.4 232.5) scale(0.93 1)">300</text>
<text x="0" y="0" font-size="14" text-anchor="middle" font-weight="bold" font-family="Liberation Sans" fill="#111"  transform="translate(579.1 232.5) scale(0.93 1)">450</text>
<text x="0" y="0" font-size="14" text-anchor="middle" font-weight="bold" font-family="Liberation Sans" fill="#111"  transform="translate(613.8 232.5) scale(0.93 1)">750</text>
<text x="0" y="0" font-size="14" text-anchor="middle" font-weight="bold" font-family="Liberation Sans" fill="#111"  transform="translate(639.9 232.5) scale(0.93 1)">775</text>
<text x="0" y="0" font-size="15" text-anchor="middle" font-weight="bold" font-family="Liberation Sans" fill="#111" textLength="52.5" lengthAdjust="spacingAndGlyphs" transform="translate(355.6 86.5) rotate(-90)">Mass (%)</text>
<text x="482" y="245.5" font-size="13.2" text-anchor="start" font-weight="bold" font-family="Liberation Sans" fill="#111" >Temperature</text>
<text x="563.4" y="245.5" font-size="13.2" text-anchor="start" font-weight="normal" font-family="Liberation Sans" fill="#111" >(</text>
<text x="567" y="239.8" font-size="9.8" text-anchor="start" font-weight="bold" font-family="Liberation Sans" fill="#111" >O</text>
<text x="574.3" y="245.5" font-size="11.6" text-anchor="start" font-weight="bold" font-family="Liberation Sans" fill="#111" >C</text>
<text x="583.4" y="245.5" font-size="13.2" text-anchor="start" font-weight="normal" font-family="Liberation Sans" fill="#111" >)</text>
<text x="530.2" y="269.6" font-size="17.5" text-anchor="start" font-weight="normal" font-family="Liberation Serif" fill="#111" >b</text>
<rect x="388.8" y="136.1" width="101.7" height="74.9" fill="#fff" stroke="#8a8a8a" stroke-width="1"/>
<line x1="389.5" y1="143.9" x2="418" y2="143.9" stroke="#111111" stroke-width="1.6" />
<text x="0" y="0" font-size="11.2" text-anchor="start" font-weight="normal" font-family="Liberation Sans" fill="#111"  transform="translate(423.4 146.5) scale(0.93 1)">Ref</text>
<line x1="389.5" y1="159.1" x2="418" y2="159.1" stroke="#f52828" stroke-width="1.6" />
<text x="0" y="0" font-size="11.2" text-anchor="start" font-weight="normal" font-family="Liberation Sans" fill="#111"  transform="translate(422.2 161.7) scale(0.93 1)">2EKL-C1</text>
<line x1="389.5" y1="173.6" x2="418" y2="173.6" stroke="#2222e6" stroke-width="1.6" />
<text x="0" y="0" font-size="11.2" text-anchor="start" font-weight="normal" font-family="Liberation Sans" fill="#111"  transform="translate(422.2 176.2) scale(0.93 1)">5EKL-C1</text>
<line x1="389.5" y1="188.6" x2="418" y2="188.6" stroke="#1f8585" stroke-width="1.6" />
<text x="0" y="0" font-size="11.2" text-anchor="start" font-weight="normal" font-family="Liberation Sans" fill="#111"  transform="translate(422.2 191.2) scale(0.93 1)">10EKL-C1</text>
<line x1="389.5" y1="203.4" x2="418" y2="203.4" stroke="#ff22ff" stroke-width="1.6" />
<text x="0" y="0" font-size="11.2" text-anchor="start" font-weight="normal" font-family="Liberation Sans" fill="#111"  transform="translate(422.2 206) scale(0.93 1)">15EKL-C1</text>
<path d="M383.7 10.1 C384.42 10.13 386.45 10.18 388 10.3 C389.55 10.42 391.33 10.32 393 10.8 C394.67 11.28 396.17 12.38 398 13.2 C399.83 14.02 402.25 14.88 404 15.7 C405.75 16.52 407.02 17.41 408.5 18.13 C409.98 18.85 411.48 19.68 412.9 20.05 C414.32 20.41 415.65 20.29 417 20.3 C418.35 20.31 418.83 20.07 421 20.1 C423.17 20.13 426 20.35 430 20.5 C434 20.65 440 20.82 445 21 C450 21.18 455.83 21.37 460 21.6 C464.17 21.83 467.07 22.08 470 22.4 C472.93 22.72 475.42 22.91 477.6 23.5 C479.78 24.09 481.47 25.06 483.06 25.92 C484.66 26.77 485.54 27.34 487.16 28.64 C488.77 29.95 490.79 31.55 492.73 33.73 C494.67 35.91 496.98 38.93 498.81 41.73 C500.64 44.52 502.34 47.45 503.72 50.5 C505.11 53.55 505.88 56.75 507.1 60 C508.31 63.25 509.02 65 511.04 70 C513.06 75 516.84 84.17 519.22 90 C521.6 95.83 523.29 100 525.3 105 C527.31 110 529.42 115.58 531.28 120 C533.14 124.42 534.76 128.17 536.48 131.5 C538.2 134.83 539.43 136.92 541.57 140 C543.71 143.08 546.45 146.67 549.32 150 C552.19 153.33 555.71 156.67 558.79 160 C561.87 163.33 565.34 166.67 567.78 170 C570.22 173.33 571.57 176.67 573.41 180 C575.25 183.33 576.92 186.82 578.8 190 C580.68 193.18 582.83 196.81 584.7 199.09 C586.57 201.38 588.12 202.52 590 203.7 C591.88 204.88 593.83 205.57 596 206.2 C598.17 206.83 600.4 207.2 603 207.5 C605.6 207.8 610.17 207.92 611.6 208" fill="none" stroke="#111111" stroke-width="1.6" stroke-linejoin="round" stroke-linecap="round" />
<path d="M383.7 9.7 C384.42 9.73 386.45 9.78 388 9.9 C389.55 10.02 391.33 9.94 393 10.4 C394.67 10.86 396.17 11.85 398 12.63 C399.83 13.42 402.25 14.35 404 15.1 C405.75 15.85 407.02 16.53 408.5 17.12 C409.98 17.72 411.48 18.35 412.9 18.64 C414.32 18.94 415.65 18.87 417 18.9 C418.35 18.93 418.83 18.75 421 18.8 C423.17 18.85 426 19.05 430 19.2 C434 19.35 440 19.52 445 19.7 C450 19.88 455.83 20.07 460 20.3 C464.17 20.53 467.07 20.78 470 21.1 C472.93 21.42 475.45 21.59 477.6 22.2 C479.75 22.81 481.39 23.83 482.92 24.73 C484.46 25.63 485.3 26.24 486.81 27.63 C488.32 29.01 490.22 30.71 491.99 33.03 C493.77 35.35 495.77 38.61 497.46 41.53 C499.14 44.44 500.8 47.42 502.12 50.5 C503.43 53.58 504.23 56.75 505.33 60 C506.43 63.25 507.01 65 508.73 70 C510.44 75 513.52 84.17 515.62 90 C517.72 95.83 519.42 100 521.3 105 C523.18 110 525.08 115.58 526.88 120 C528.68 124.42 530.4 128.17 532.08 131.5 C533.76 134.83 535.03 136.92 536.97 140 C538.91 143.08 540.78 146.67 543.72 150 C546.66 153.33 550.98 156.67 554.59 160 C558.2 163.33 562.54 166.67 565.38 170 C568.22 173.33 569.37 176.67 571.61 180 C573.85 183.33 576.62 186.68 578.8 190 C580.98 193.32 582.83 197.42 584.7 199.91 C586.57 202.39 588.12 203.65 590 204.9 C591.88 206.15 593.83 206.77 596 207.4 C598.17 208.03 600.4 208.4 603 208.7 C605.6 209 610.17 209.12 611.6 209.2" fill="none" stroke="#f52828" stroke-width="1.6" stroke-linejoin="round" stroke-linecap="round" />
<path d="M383.7 9.9 C384.42 9.93 386.45 9.98 388 10.1 C389.55 10.22 391.33 10.37 393 10.6 C394.67 10.83 396.17 10.98 398 11.5 C399.83 12.02 402.25 13.03 404 13.7 C405.75 14.37 407.02 14.98 408.5 15.5 C409.98 16.02 411.48 16.42 412.9 16.8 C414.32 17.18 415.65 17.52 417 17.8 C418.35 18.08 418.83 18.32 421 18.5 C423.17 18.68 426 18.75 430 18.9 C434 19.05 440 19.22 445 19.4 C450 19.58 455.83 19.77 460 20 C464.17 20.23 467.07 20.48 470 20.8 C472.93 21.12 475.43 21.29 477.6 21.9 C479.77 22.51 481.45 23.54 483.02 24.46 C484.6 25.37 485.47 25.99 487.05 27.39 C488.63 28.79 490.62 30.52 492.51 32.87 C494.4 35.22 496.61 38.54 498.4 41.48 C500.19 44.42 501.88 47.41 503.24 50.5 C504.6 53.59 505.38 56.75 506.56 60 C507.75 63.25 508.42 65 510.35 70 C512.28 75 515.85 84.17 518.14 90 C520.43 95.83 522.13 100 524.1 105 C526.07 110 528.12 115.58 529.96 120 C531.8 124.42 533.45 128.17 535.16 131.5 C536.87 134.83 538.11 136.92 540.19 140 C542.27 143.08 544.75 146.67 547.64 150 C550.53 153.33 554.29 156.67 557.53 160 C560.77 163.33 564.5 166.67 567.06 170 C569.62 173.33 570.91 176.67 572.87 180 C574.83 183.33 576.83 186.75 578.8 190 C580.77 193.25 582.83 197.12 584.7 199.5 C586.57 201.88 588.12 203.08 590 204.3 C591.88 205.52 593.83 206.17 596 206.8 C598.17 207.43 600.4 207.8 603 208.1 C605.6 208.4 610.17 208.52 611.6 208.6" fill="none" stroke="#2222e6" stroke-width="1.6" stroke-linejoin="round" stroke-linecap="round" />
<path d="M383.7 9.7 C384.42 9.73 386.45 9.78 388 9.9 C389.55 10.02 391.33 10.31 393 10.4 C394.67 10.49 396.17 10.12 398 10.47 C399.83 10.82 402.25 11.82 404 12.5 C405.75 13.18 407.02 13.96 408.5 14.57 C409.98 15.18 411.48 15.61 412.9 16.13 C414.32 16.66 415.65 17.24 417 17.7 C418.35 18.16 418.83 18.63 421 18.9 C423.17 19.17 426 19.15 430 19.3 C434 19.45 440 19.62 445 19.8 C450 19.98 455.83 20.17 460 20.4 C464.17 20.63 467.07 20.88 470 21.2 C472.93 21.52 475.42 21.7 477.6 22.3 C479.78 22.9 481.49 23.92 483.1 24.82 C484.71 25.72 485.62 26.33 487.26 27.7 C488.9 29.08 490.96 30.78 492.95 33.09 C494.94 35.39 497.34 38.64 499.21 41.54 C501.09 44.44 502.8 47.42 504.21 50.5 C505.61 53.58 506.37 56.75 507.62 60 C508.88 63.25 509.62 65 511.74 70 C513.85 75 517.84 84.17 520.3 90 C522.76 95.83 524.45 100 526.5 105 C528.55 110 530.72 115.58 532.6 120 C534.48 124.42 536.07 128.17 537.8 131.5 C539.52 134.83 540.75 136.92 542.95 140 C545.15 143.08 548.15 146.67 551 150 C553.85 153.33 557.13 156.67 560.05 160 C562.97 163.33 566.18 166.67 568.5 170 C570.82 173.33 572.23 176.67 573.95 180 C575.67 183.33 577.01 186.89 578.8 190 C580.59 193.11 582.83 196.5 584.7 198.69 C586.57 200.87 588.12 201.95 590 203.1 C591.88 204.25 593.83 204.97 596 205.6 C598.17 206.23 600.4 206.6 603 206.9 C605.6 207.2 610.17 207.32 611.6 207.4" fill="none" stroke="#1f8585" stroke-width="1.6" stroke-linejoin="round" stroke-linecap="round" />
<path d="M383.7 8.8 C384.42 8.83 386.45 8.88 388 9 C389.55 9.12 391.33 8.99 393 9.5 C394.67 10.01 396.17 11.22 398 12.07 C399.83 12.92 402.25 13.89 404 14.6 C405.75 15.31 407.02 15.82 408.5 16.31 C409.98 16.8 411.48 17.32 412.9 17.52 C414.32 17.72 415.65 17.55 417 17.5 C418.35 17.45 418.83 17.18 421 17.2 C423.17 17.22 426 17.45 430 17.6 C434 17.75 440 17.92 445 18.1 C450 18.28 455.83 18.47 460 18.7 C464.17 18.93 467.07 19.18 470 19.5 C472.93 19.82 475.45 19.97 477.6 20.6 C479.75 21.23 481.37 22.31 482.9 23.27 C484.42 24.23 485.25 24.89 486.74 26.37 C488.23 27.86 490.11 29.69 491.85 32.17 C493.59 34.65 495.53 38.22 497.19 41.27 C498.85 44.33 500.5 47.38 501.79 50.5 C503.09 53.62 503.9 56.75 504.98 60 C506.05 63.25 506.61 65 508.26 70 C509.92 75 512.86 84.17 514.9 90 C516.94 95.83 518.65 100 520.5 105 C522.35 110 524.22 115.58 526 120 C527.78 124.42 529.53 128.17 531.2 131.5 C532.88 134.83 534.15 136.92 536.05 140 C537.95 143.08 539.65 146.67 542.6 150 C545.55 153.33 550.03 156.67 553.75 160 C557.47 163.33 561.98 166.67 564.9 170 C567.82 173.33 568.93 176.67 571.25 180 C573.57 183.33 576.56 186.6 578.8 190 C581.04 193.4 582.83 197.78 584.7 200.38 C586.57 202.98 588.12 204.31 590 205.6 C591.88 206.89 593.83 207.47 596 208.1 C598.17 208.73 600.4 209.1 603 209.4 C605.6 209.7 610.17 209.82 611.6 209.9" fill="none" stroke="#ff22ff" stroke-width="1.6" stroke-linejoin="round" stroke-linecap="round" />
<path d="M611.6 211.4 C620.17 211.4 654.43 211.4 663 211.4" fill="none" stroke="#111111" stroke-width="1.6" stroke-linejoin="round" stroke-linecap="round" />
<path d="M611.6 212.6 C620.17 212.6 654.43 212.6 663 212.6" fill="none" stroke="#f52828" stroke-width="1.6" stroke-linejoin="round" stroke-linecap="round" />
<path d="M611.6 212 C620.17 212 654.43 212 663 212" fill="none" stroke="#2222e6" stroke-width="1.6" stroke-linejoin="round" stroke-linecap="round" />
<path d="M611.6 213.3 C620.17 213.3 654.43 213.3 663 213.3" fill="none" stroke="#ff22ff" stroke-width="1.6" stroke-linejoin="round" stroke-linecap="round" />
<path d="M611.6 211 C620.17 211 654.43 211 663 211" fill="none" stroke="#1f8585" stroke-width="1.6" stroke-linejoin="round" stroke-linecap="round" />
<ellipse cx="410.4" cy="14.1" rx="18.4" ry="7" transform="rotate(22 410.4 14.1)" fill="none" stroke="#555" stroke-width="0.8"/>
<ellipse cx="534.5" cy="121.1" rx="87.8" ry="13.2" transform="rotate(62.2 534.5 121.1)" fill="none" stroke="#555" stroke-width="0.8"/>
<line x1="417.5" y1="23" x2="424.26" y2="43.43" stroke="#222" stroke-width="0.8" />
<path d="M426.3 49.6 L422.07 44.15 L426.44 42.71 Z" fill="#222"/>
<line x1="547.4" y1="117" x2="603.88" y2="96.88" stroke="#222" stroke-width="0.8" />
<path d="M610 94.7 L604.65 99.05 L603.11 94.71 Z" fill="#222"/>
<line x1="396.6" y1="24" x2="396.6" y2="101.9" stroke="#bdbdbd" stroke-width="0.8" />
<line x1="396.6" y1="101.9" x2="499.7" y2="101.9" stroke="#bdbdbd" stroke-width="0.8" />
<line x1="396.6" y1="25" x2="398" y2="25" stroke="#bdbdbd" stroke-width="0.6" />
<line x1="396.6" y1="40.3" x2="398" y2="40.3" stroke="#bdbdbd" stroke-width="0.6" />
<line x1="396.6" y1="55.7" x2="398" y2="55.7" stroke="#bdbdbd" stroke-width="0.6" />
<line x1="396.6" y1="71.2" x2="398" y2="71.2" stroke="#bdbdbd" stroke-width="0.6" />
<line x1="396.6" y1="86.8" x2="398" y2="86.8" stroke="#bdbdbd" stroke-width="0.6" />
<line x1="422.7" y1="101.9" x2="422.7" y2="100.6" stroke="#bdbdbd" stroke-width="0.6" />
<line x1="448" y1="101.9" x2="448" y2="100.6" stroke="#bdbdbd" stroke-width="0.6" />
<line x1="473.5" y1="101.9" x2="473.5" y2="100.6" stroke="#bdbdbd" stroke-width="0.6" />
<text x="394.8" y="26.4" font-size="4" text-anchor="end" font-weight="bold" font-family="Liberation Sans" fill="#444" >100</text>
<text x="394.8" y="41.7" font-size="4" text-anchor="end" font-weight="bold" font-family="Liberation Sans" fill="#444" >98</text>
<text x="394.8" y="57.1" font-size="4" text-anchor="end" font-weight="bold" font-family="Liberation Sans" fill="#444" >96</text>
<text x="394.8" y="72.6" font-size="4" text-anchor="end" font-weight="bold" font-family="Liberation Sans" fill="#444" >94</text>
<text x="394.8" y="88.2" font-size="4" text-anchor="end" font-weight="bold" font-family="Liberation Sans" fill="#444" >92</text>
<text x="422.7" y="108" font-size="4" text-anchor="middle" font-weight="bold" font-family="Liberation Sans" fill="#444" >120</text>
<text x="473.5" y="108" font-size="4" text-anchor="middle" font-weight="bold" font-family="Liberation Sans" fill="#444" >240</text>
<text x="453.6" y="112.9" font-size="4.6" text-anchor="middle" font-weight="bold" font-family="Liberation Sans" fill="#444" textLength="35.5" lengthAdjust="spacingAndGlyphs" >Temperature (<tspan font-size="3" dy="-1.6">O</tspan><tspan dy="1.6">C)</tspan></text>
<text x="0" y="0" font-size="4.6" text-anchor="middle" font-weight="bold" font-family="Liberation Sans" fill="#333" transform="translate(388.3 55) rotate(-90)">Mass (%)</text>
<path d="M396.8 26.2 C397.42 26.32 399.08 26.37 400.54 26.9 C402 27.43 403.43 27.75 405.56 29.4 C407.69 31.05 410.74 33.87 413.3 36.8 C415.86 39.73 418.66 43.47 420.9 47 C423.14 50.53 424.81 54.95 426.74 57.98 C428.68 61.01 430.62 63.85 432.5 65.2 C434.38 66.55 435.08 65.87 438 66.1 C440.92 66.33 445.5 66.32 450 66.6 C454.5 66.88 460.67 67.37 465 67.8 C469.33 68.23 473.34 68.64 476 69.2 C478.66 69.76 479.49 70.26 480.97 71.17 C482.46 72.08 483.59 73.06 484.88 74.66 C486.18 76.25 487.61 78.64 488.73 80.74 C489.84 82.83 490.7 85.06 491.56 87.22 C492.42 89.38 493.15 91.33 493.89 93.71 C494.63 96.09 495.65 100.2 496 101.5" fill="none" stroke="#111111" stroke-width="0.95" stroke-linejoin="round" stroke-linecap="round" opacity="0.9"/>
<path d="M396.8 26.2 C397.41 26.32 399.06 26.37 400.46 26.9 C401.87 27.43 403.2 27.75 405.24 29.4 C407.28 31.05 410.19 33.87 412.7 36.8 C415.21 39.73 418.01 43.85 420.3 47 C422.59 50.15 424.42 53.37 426.46 55.67 C428.49 57.97 430.58 59.8 432.5 60.8 C434.42 61.81 435.08 61.47 438 61.7 C440.92 61.93 445.5 61.92 450 62.2 C454.5 62.48 460.67 62.97 465 63.4 C469.33 63.83 473.33 64.21 476 64.8 C478.67 65.39 479.5 65.9 480.99 66.91 C482.48 67.93 483.64 69.07 484.96 70.89 C486.27 72.72 487.75 75.45 488.9 77.84 C490.04 80.24 490.94 82.78 491.83 85.25 C492.73 87.72 493.49 89.96 494.27 92.66 C495.05 95.37 496.13 100.03 496.5 101.5" fill="none" stroke="#f52828" stroke-width="0.95" stroke-linejoin="round" stroke-linecap="round" opacity="0.9"/>
<path d="M396.8 26.2 C397.43 26.32 399.09 26.37 400.61 26.9 C402.12 27.43 403.66 27.75 405.88 29.4 C408.1 31.05 411.3 33.87 413.9 36.8 C416.5 39.73 419.31 44.05 421.5 47 C423.69 49.95 425.19 52.58 427.03 54.52 C428.86 56.45 430.67 57.77 432.5 58.6 C434.33 59.43 435.08 59.27 438 59.5 C440.92 59.73 445.5 59.72 450 60 C454.5 60.28 460.67 60.77 465 61.2 C469.33 61.63 473.33 62 476 62.6 C478.67 63.2 479.51 63.71 481.02 64.78 C482.54 65.85 483.73 67.08 485.1 69.01 C486.47 70.95 488.03 73.85 489.24 76.39 C490.45 78.94 491.42 81.64 492.39 84.27 C493.35 86.89 494.18 89.27 495.03 92.14 C495.89 95.01 497.09 99.94 497.5 101.5" fill="none" stroke="#2222e6" stroke-width="0.95" stroke-linejoin="round" stroke-linecap="round" opacity="0.9"/>
<path d="M396.8 26.2 C397.45 26.32 399.12 26.37 400.72 26.9 C402.32 27.43 404.05 27.75 406.41 29.4 C408.78 31.05 412.22 33.87 414.9 36.8 C417.58 39.73 420.4 43.91 422.5 47 C424.6 50.09 425.84 53.16 427.5 55.36 C429.17 57.56 430.75 59.24 432.5 60.2 C434.25 61.16 435.08 60.87 438 61.1 C440.92 61.33 445.5 61.32 450 61.6 C454.5 61.88 460.67 62.37 465 62.8 C469.33 63.23 473.33 63.61 476 64.2 C478.67 64.79 479.5 65.3 481.01 66.33 C482.52 67.36 483.7 68.53 485.06 70.38 C486.41 72.23 487.94 75.01 489.14 77.45 C490.33 79.88 491.28 82.47 492.22 84.98 C493.17 87.5 493.98 89.77 494.81 92.52 C495.64 95.27 496.8 100 497.2 101.5" fill="none" stroke="#1f8585" stroke-width="0.95" stroke-linejoin="round" stroke-linecap="round" opacity="0.9"/>
<path d="M396.8 26.2 C397.4 26.32 399.04 26.37 400.37 26.9 C401.71 27.43 402.89 27.75 404.81 29.4 C406.73 31.05 409.45 33.87 411.9 36.8 C414.35 39.73 417.14 44.4 419.5 47 C421.86 49.6 423.91 51.15 426.08 52.41 C428.24 53.68 430.51 54.09 432.5 54.6 C434.49 55.11 435.08 55.27 438 55.5 C440.92 55.73 445.5 55.72 450 56 C454.5 56.28 460.67 56.77 465 57.2 C469.33 57.63 473.33 57.98 476 58.6 C478.67 59.22 479.5 59.74 480.99 60.91 C482.49 62.07 483.65 63.45 484.97 65.59 C486.29 67.73 487.78 70.95 488.93 73.76 C490.08 76.58 490.99 79.57 491.89 82.48 C492.79 85.38 493.56 88.02 494.35 91.19 C495.13 94.36 496.22 99.78 496.6 101.5" fill="none" stroke="#ff22ff" stroke-width="0.95" stroke-linejoin="round" stroke-linecap="round" opacity="0.9"/>
<line x1="554.4" y1="18" x2="554.4" y2="126.5" stroke="#9a9a9a" stroke-width="0.8" />
<line x1="554.4" y1="126.5" x2="681.9" y2="126.5" stroke="#9a9a9a" stroke-width="0.8" />
<line x1="554.4" y1="25.3" x2="556.4" y2="25.3" stroke="#9a9a9a" stroke-width="0.7" />
<line x1="554.4" y1="53.5" x2="556.4" y2="53.5" stroke="#9a9a9a" stroke-width="0.7" />
<line x1="554.4" y1="80.6" x2="556.4" y2="80.6" stroke="#9a9a9a" stroke-width="0.7" />
<line x1="554.4" y1="108.3" x2="556.4" y2="108.3" stroke="#9a9a9a" stroke-width="0.7" />
<line x1="554.4" y1="39.4" x2="555.6" y2="39.4" stroke="#9a9a9a" stroke-width="0.6" />
<line x1="554.4" y1="67" x2="555.6" y2="67" stroke="#9a9a9a" stroke-width="0.6" />
<line x1="554.4" y1="94.5" x2="555.6" y2="94.5" stroke="#9a9a9a" stroke-width="0.6" />
<line x1="588.7" y1="126.5" x2="588.7" y2="124.5" stroke="#9a9a9a" stroke-width="0.7" />
<line x1="631.7" y1="126.5" x2="631.7" y2="124.5" stroke="#9a9a9a" stroke-width="0.7" />
<line x1="674.2" y1="126.5" x2="674.2" y2="124.5" stroke="#9a9a9a" stroke-width="0.7" />
<line x1="567.2" y1="126.5" x2="567.2" y2="125.3" stroke="#9a9a9a" stroke-width="0.6" />
<line x1="610.2" y1="126.5" x2="610.2" y2="125.3" stroke="#9a9a9a" stroke-width="0.6" />
<line x1="652.9" y1="126.5" x2="652.9" y2="125.3" stroke="#9a9a9a" stroke-width="0.6" />
<text x="551.8" y="27.6" font-size="6.4" text-anchor="end" font-weight="bold" font-family="Liberation Sans" fill="#111" >80</text>
<text x="551.8" y="55.8" font-size="6.4" text-anchor="end" font-weight="bold" font-family="Liberation Sans" fill="#111" >60</text>
<text x="551.8" y="82.9" font-size="6.4" text-anchor="end" font-weight="bold" font-family="Liberation Sans" fill="#111" >40</text>
<text x="551.8" y="110.6" font-size="6.4" text-anchor="end" font-weight="bold" font-family="Liberation Sans" fill="#111" >20</text>
<text x="0" y="0" font-size="5.8" text-anchor="middle" font-weight="bold" font-family="Liberation Sans" fill="#111"  transform="translate(588.4 135.4) scale(0.88 1)">350</text>
<text x="0" y="0" font-size="5.8" text-anchor="middle" font-weight="bold" font-family="Liberation Sans" fill="#111"  transform="translate(631.3 135.4) scale(0.88 1)">400</text>
<text x="0" y="0" font-size="5.8" text-anchor="middle" font-weight="bold" font-family="Liberation Sans" fill="#111"  transform="translate(674.3 135.4) scale(0.88 1)">450</text>
<text x="0" y="0" font-size="6.6" text-anchor="middle" font-weight="bold" font-family="Liberation Sans" fill="#333" transform="translate(544.2 59.8) rotate(-90)">Mass (%)</text>
<text x="625.6" y="142.4" font-size="6" text-anchor="middle" font-weight="bold" font-family="Liberation Sans" fill="#333" textLength="43" lengthAdjust="spacingAndGlyphs" >Temperature (<tspan font-size="4" dy="-2.2">O</tspan><tspan dy="2.2">C)</tspan></text>
<path d="M555.2 18.56 C555.83 18.98 557.7 19.95 559 21.08 C560.3 22.21 561.33 23.51 563 25.34 C564.67 27.17 567 29.78 569 32.06 C571 34.34 573.07 36.84 575 39.04 C576.93 41.24 578.77 43.24 580.6 45.26 C582.43 47.28 584.1 49.15 586 51.16 C587.9 53.17 590.07 55.27 592 57.34 C593.93 59.41 595.47 61.24 597.6 63.56 C599.73 65.88 602.73 69.11 604.8 71.24 C606.87 73.37 607.97 74.61 610 76.32 C612.03 78.03 614.5 79.71 617 81.52 C619.5 83.33 622.33 85.45 625 87.2 C627.67 88.95 630.5 90.65 633 92.04 C635.5 93.43 637.5 94.29 640 95.56 C642.5 96.83 645.5 98.27 648 99.64 C650.5 101.01 652.67 102.33 655 103.8 C657.33 105.27 659.5 106.75 662 108.44 C664.5 110.13 667.67 112.36 670 113.96 C672.33 115.56 674.13 116.68 676 118.02 C677.87 119.36 680.33 121.34 681.2 122" fill="none" stroke="#111111" stroke-width="1.15" stroke-linejoin="round" stroke-linecap="round" />
<path d="M555.2 18.3 C555.83 18.68 557.7 19.52 559 20.6 C560.3 21.68 561.33 23.03 563 24.8 C564.67 26.57 567 29 569 31.2 C571 33.4 573.07 35.87 575 38 C576.93 40.13 578.77 42.05 580.6 44 C582.43 45.95 584.1 47.73 586 49.7 C587.9 51.67 590.07 53.75 592 55.8 C593.93 57.85 595.47 59.63 597.6 62 C599.73 64.37 602.73 67.83 604.8 70 C606.87 72.17 607.97 73.3 610 75 C612.03 76.7 614.5 78.37 617 80.2 C619.5 82.03 622.33 84.22 625 86 C627.67 87.78 630.5 89.5 633 90.9 C635.5 92.3 637.5 93.12 640 94.4 C642.5 95.68 645.5 97.22 648 98.6 C650.5 99.98 652.67 101.2 655 102.7 C657.33 104.2 659.5 105.85 662 107.6 C664.5 109.35 667.67 111.57 670 113.2 C672.33 114.83 674.13 116 676 117.4 C677.87 118.8 680.33 120.9 681.2 121.6" fill="none" stroke="#1f8585" stroke-width="1.15" stroke-linejoin="round" stroke-linecap="round" />
<path d="M555.2 19.41 C555.83 19.94 557.7 21.36 559 22.64 C560.3 23.92 561.33 25.06 563 27.09 C564.67 29.13 567 32.3 569 34.86 C571 37.41 573.07 40 575 42.42 C576.93 44.84 578.77 47.11 580.6 49.35 C582.43 51.6 584.1 53.74 586 55.91 C587.9 58.07 590.07 60.22 592 62.34 C593.93 64.47 595.47 66.48 597.6 68.63 C599.73 70.78 602.73 73.27 604.8 75.27 C606.87 77.27 607.97 78.85 610 80.61 C612.03 82.37 614.5 84.06 617 85.81 C619.5 87.56 622.33 89.44 625 91.1 C627.67 92.76 630.5 94.37 633 95.75 C635.5 97.12 637.5 98.12 640 99.33 C642.5 100.54 645.5 101.68 648 103.02 C650.5 104.36 652.67 106.02 655 107.38 C657.33 108.73 659.5 109.66 662 111.17 C664.5 112.68 667.67 114.95 670 116.43 C672.33 117.91 674.13 118.89 676 120.03 C677.87 121.18 680.33 122.76 681.2 123.3" fill="none" stroke="#f52828" stroke-width="1.15" stroke-linejoin="round" stroke-linecap="round" />
<path d="M555.2 18.95 C555.83 19.43 557.7 20.6 559 21.8 C560.3 23 561.33 24.22 563 26.15 C564.67 28.07 567 30.94 569 33.35 C571 35.76 573.07 38.3 575 40.6 C576.93 42.9 578.77 45.02 580.6 47.15 C582.43 49.27 584.1 51.27 586 53.35 C587.9 55.43 590.07 57.56 592 59.65 C593.93 61.74 595.47 63.66 597.6 65.9 C599.73 68.14 602.73 71.03 604.8 73.1 C606.87 75.17 607.97 76.57 610 78.3 C612.03 80.03 614.5 81.72 617 83.5 C619.5 85.28 622.33 87.29 625 89 C627.67 90.71 630.5 92.37 633 93.75 C635.5 95.13 637.5 96.06 640 97.3 C642.5 98.54 645.5 99.84 648 101.2 C650.5 102.56 652.67 104.03 655 105.45 C657.33 106.87 659.5 108.09 662 109.7 C664.5 111.31 667.67 113.56 670 115.1 C672.33 116.64 674.13 117.7 676 118.95 C677.87 120.2 680.33 121.99 681.2 122.6" fill="none" stroke="#2222e6" stroke-width="1.15" stroke-linejoin="round" stroke-linecap="round" />
<path d="M555.2 19.6 C555.83 20.17 557.7 21.68 559 23 C560.3 24.32 561.33 25.42 563 27.5 C564.67 29.58 567 32.88 569 35.5 C571 38.12 573.07 40.73 575 43.2 C576.93 45.67 578.77 48 580.6 50.3 C582.43 52.6 584.1 54.8 586 57 C587.9 59.2 590.07 61.37 592 63.5 C593.93 65.63 595.47 67.68 597.6 69.8 C599.73 71.92 602.73 74.23 604.8 76.2 C606.87 78.17 607.97 79.83 610 81.6 C612.03 83.37 614.5 85.07 617 86.8 C619.5 88.53 622.33 90.37 625 92 C627.67 93.63 630.5 95.23 633 96.6 C635.5 97.97 637.5 99 640 100.2 C642.5 101.4 645.5 102.47 648 103.8 C650.5 105.13 652.67 106.87 655 108.2 C657.33 109.53 659.5 110.33 662 111.8 C664.5 113.27 667.67 115.55 670 117 C672.33 118.45 674.13 119.4 676 120.5 C677.87 121.6 680.33 123.08 681.2 123.6" fill="none" stroke="#ff22ff" stroke-width="1.15" stroke-linejoin="round" stroke-linecap="round" />
</svg>
</body></html>
